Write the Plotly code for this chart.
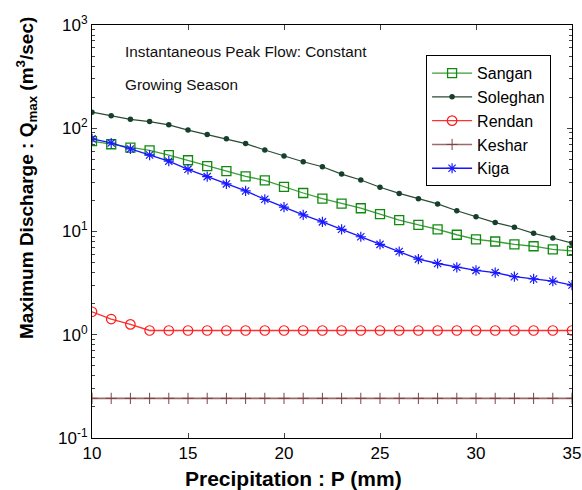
import plotly.graph_objects as go

precip = list(range(10, 36))

sangan = [75, 70, 65, 61, 55, 49, 43, 38.5, 34.2, 31.3, 27, 23.6, 20.8, 18.6, 16.8,
          14.7, 12.9, 11.6, 10.5, 9.3, 8.4, 8.0, 7.5, 7.2, 6.7, 6.5]
soleghan = [143, 132, 122, 116, 108, 96, 87, 79, 71, 61.5, 54, 47.4, 42.4, 36, 31.5,
            26.8, 23.4, 20.8, 18.5, 15.9, 13.9, 12.2, 11, 9.6, 8.65, 7.7]
rendan = [1.67, 1.42, 1.26] + [1.1] * 23
keshar = [0.242] * 26
kiga = [79, 72, 63, 55, 48, 40, 34, 28.9, 24.7, 20.5, 17.2, 14.5, 12.4, 10.5, 8.9,
        7.5, 6.4, 5.4, 4.9, 4.5, 4.2, 4.0, 3.65, 3.47, 3.3, 3.03]

x_ticks = [10, 15, 20, 25, 30, 35]
y_ticks = [0.1, 1, 10, 100, 1000]
y_ticktext = ["10<sup>-1</sup>", "10<sup>0</sup>", "10<sup>1</sup>", "10<sup>2</sup>", "10<sup>3</sup>"]
y_minor = [m * d for d in (0.1, 1, 10, 100) for m in range(2, 10)]

fig = go.Figure()

fig.add_trace(go.Scatter(x=precip, y=sangan, name="Sangan", mode="lines+markers",
                         line=dict(color="#3a9e3a", width=1.3),
                         marker=dict(symbol="square-open", size=9, color="#0f8a0f", line=dict(width=1.3))))
fig.add_trace(go.Scatter(x=precip, y=soleghan, name="Soleghan", mode="lines+markers",
                         line=dict(color="#2a4a36", width=1.2),
                         marker=dict(symbol="circle", size=5.5, color="#17402a")))
fig.add_trace(go.Scatter(x=precip, y=rendan, name="Rendan", mode="lines+markers",
                         line=dict(color="#ff3030", width=1.3),
                         marker=dict(symbol="circle-open", size=9.5, color="#ff1a1a", line=dict(width=1.2))))
fig.add_trace(go.Scatter(x=precip, y=keshar, name="Keshar", mode="lines+markers",
                         line=dict(color="#9c6a6a", width=1.6),
                         marker=dict(symbol="cross-thin-open", size=8, color="#7a4545", line=dict(width=1))))
fig.add_trace(go.Scatter(x=precip, y=kiga, name="Kiga", mode="lines+markers",
                         line=dict(color="#1515ff", width=1.3),
                         marker=dict(symbol="asterisk-open", size=8.5, color="#1a1aff", line=dict(width=1.2))))

ann_font = dict(family="Liberation Sans, Arial", size=15.3, color="#111")
fig.add_annotation(x=0.065, y=0.935, xref="paper", yref="paper", xanchor="left", yanchor="middle",
                   text="Instantaneous Peak Flow: Constant", showarrow=False, font=ann_font)
fig.add_annotation(x=0.065, y=0.855, xref="paper", yref="paper", xanchor="left", yanchor="middle",
                   text="Growing Season", showarrow=False, font=ann_font)

# axis titles
fig.add_annotation(x=0.42, y=-0.097, xref="paper", yref="paper", xanchor="center", yanchor="middle",
                   text="<b>Precipitation : P (mm)</b>", showarrow=False,
                   font=dict(family="Liberation Sans, Arial", size=21, color="black"))
fig.add_annotation(x=-0.135, y=0.63, xref="paper", yref="paper", xanchor="center", yanchor="middle",
                   text="<b>Maximum Discharge : Q<sub>max</sub> (m<sup>3</sup>/sec)</b>", showarrow=False,
                   textangle=-90, font=dict(family="Liberation Sans, Arial", size=19, color="black"))

fig.update_layout(
    width=582, height=490,
    margin=dict(l=92, r=10, t=25, b=52),
    paper_bgcolor="white", plot_bgcolor="white",
    font=dict(family="Liberation Sans, Arial", color="black"),
    legend=dict(x=0.696, y=0.927, xanchor="left", yanchor="top",
                bordercolor="black", borderwidth=1, bgcolor="white",
                font=dict(size=16), itemwidth=40),
    showlegend=True,
)

fig.update_xaxes(range=[10, 35], tickvals=x_ticks, ticks="inside", ticklen=5,
                 showline=True, linecolor="black", linewidth=1, mirror="ticks",
                 showgrid=False, zeroline=False, tickfont=dict(size=17), automargin=False)
fig.update_yaxes(type="log", range=[-1, 3], tickvals=y_ticks, ticktext=y_ticktext,
                 ticks="inside", ticklen=5, showline=True, linecolor="black", linewidth=1,
                 mirror="ticks", showgrid=False, zeroline=False, tickfont=dict(size=17),
                 minor=dict(ticks="inside", ticklen=3, showgrid=False, tickvals=y_minor),
                 automargin=False)

fig.write_html("out.html", config={"displayModeBar": False},
               post_script="document.body.style.margin='0';document.body.style.overflow='hidden';")
